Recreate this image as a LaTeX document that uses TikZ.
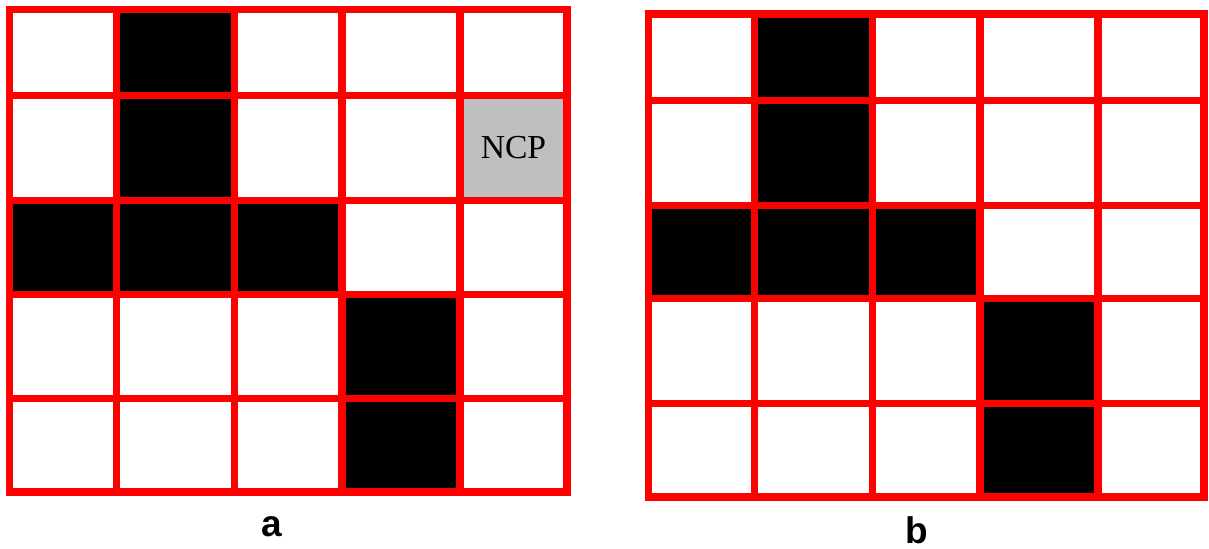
\documentclass[tikz,border=0pt]{standalone}
\usepackage{fontspec}
\newfontfamily\labelfont{Liberation Sans}
\newfontfamily\cellfont{Liberation Serif}
\usetikzlibrary{calc}

\begin{document}
\begin{tikzpicture}[x=0.5pt, y=-0.5pt,
    gridline/.style={draw=red, line width=3.75pt, line cap=rect},
    blackcell/.style={fill=black},
    ncpcell/.style={fill=black!25},
    sublabel/.style={font=\labelfont\bfseries\fontsize{18.5}{20}\selectfont, anchor=base}]
\useasboundingbox (0,0) rectangle (1209,549);
% grid a
\begin{scope}
    \fill[blackcell] (116.5,9.5) rectangle (234.5,200.5);
    \fill[blackcell] (9.5,200.5) rectangle (342,294.5);
    \fill[blackcell] (342,294.5) rectangle (460,492);
    \fill[ncpcell] (460,95.5) rectangle (567,200.5);
    \node[font=\cellfont\fontsize{16.8}{18}\selectfont] (ncp) at (513.5,148) {NCP};
    \foreach \x in {9.5,116.5,234.5,342,460,567}
        \draw[gridline] (\x,9.5) -- (\x,492);
    \foreach \y in {9.5,95.5,200.5,294.5,398.5,492}
        \draw[gridline] (9.5,\y) -- (567,\y);
    \node[sublabel] (lbla) at (272,537) {a};
\end{scope}
% grid b
\begin{scope}
    \fill[blackcell] (754.5,14) rectangle (872.5,205.3);
    \fill[blackcell] (648.5,205.3) rectangle (980,298.7);
    \fill[blackcell] (980,298.7) rectangle (1098,497);
    \foreach \x in {648.5,754.5,872.5,980,1098,1204}
        \draw[gridline] (\x,14) -- (\x,497);
    \foreach \y in {14,100.3,205.3,298.7,403.5,497}
        \draw[gridline] (648.5,\y) -- (1204,\y);
    \node[sublabel] (lblb) at (917,543) {b};
\end{scope}
\end{tikzpicture}
\end{document}
